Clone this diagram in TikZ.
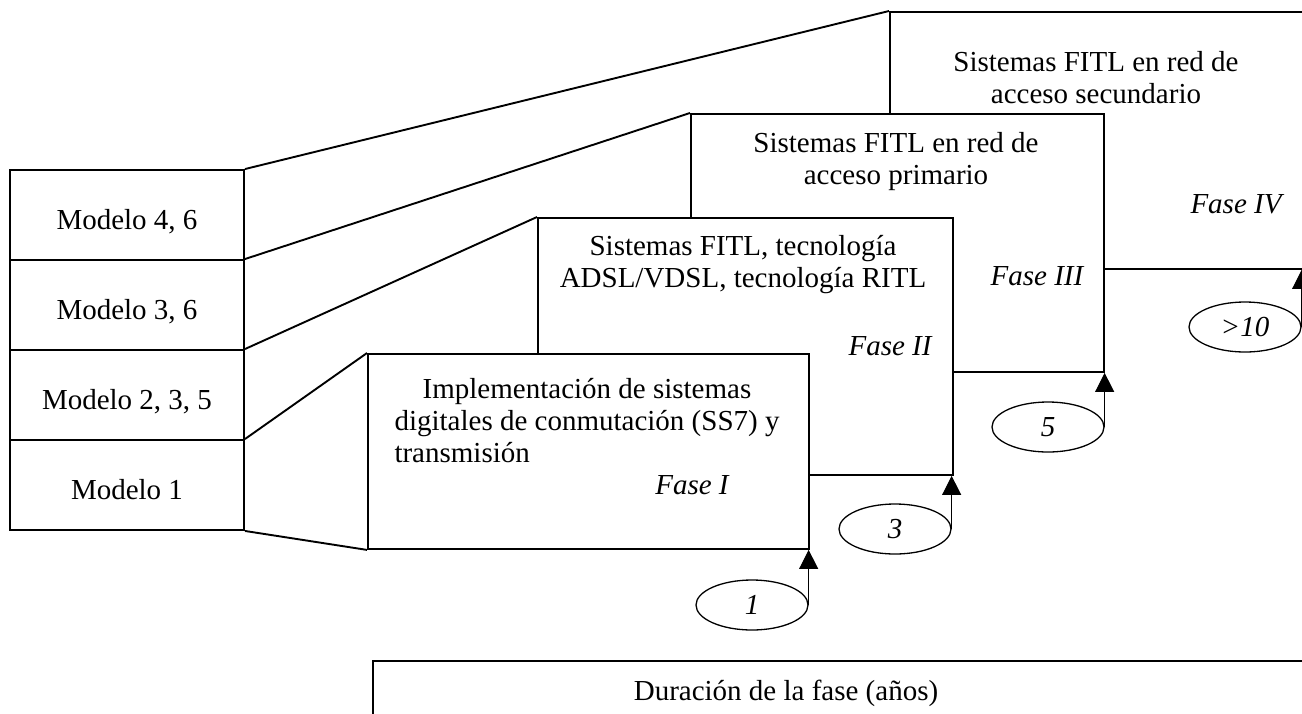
\documentclass[tikz,border=0pt]{standalone}
\usepackage{fontspec}
\setmainfont{Liberation Serif}
\usetikzlibrary{arrows.meta,shapes.geometric}
% centred block of lines whose reference point is the first baseline
\newcommand\twolines[1]{\begin{tabular}[t]{@{}c@{}}#1\end{tabular}}
\begin{document}
\begin{tikzpicture}[x=1pt,y=-1pt,
  font=\fontsize{29}{32}\selectfont,
  frame/.style={draw, line width=1.9pt, fill=white, inner sep=0pt, anchor=north west},
  modelbox/.style={draw, line width=1.9pt, minimum width=234pt, minimum height=90pt,
                   inner sep=0pt, text height=29pt, text depth=0pt},
  link/.style={line width=1.9pt},
  oval/.style={draw, ellipse, line width=1.3pt, minimum width=112pt, minimum height=50pt,
               inner sep=0pt, font=\fontsize{29}{32}\selectfont\itshape},
  rise/.style={line width=1pt, -{Triangle[length=19pt,width=19pt]}},
  phase/.style={font=\fontsize{29}{32}\selectfont\itshape, anchor=base, inner sep=0pt},
  caption/.style={anchor=base, inner sep=0pt}]
\useasboundingbox (0,0) rectangle (1302,713);
\clip (0,0) rectangle (1302,713);

% phase frames, back to front
\node[frame, minimum width=414pt, minimum height=257pt] (f4) at (889,11) {};
\node[frame, minimum width=413pt, minimum height=258pt] (f3) at (690,113) {};
\node[frame, minimum width=415pt, minimum height=257pt] (f2) at (537,217) {};
\node[frame, minimum width=441pt, minimum height=195pt] (f1) at (367,353) {};

% stack of models
\node[modelbox] (m4) at (127,215) {Modelo 4, 6};
\node[modelbox] (m3) at (127,305) {Modelo 3, 6};
\node[modelbox] (m2) at (127,395) {Modelo 2, 3, 5};
\node[modelbox] (m1) at (127,485) {Modelo 1};

% perspective links from the models to the phases
\draw[link] (m4.north east) -- (f4.north west);
\draw[link] (m3.north east) -- (f3.north west);
\draw[link] (m2.north east) -- (f2.north west);
\draw[link] (m1.north east) -- (f1.north west);
\draw[link] (m1.south east) -- (f1.south west);

% phase contents
\node[caption] (t4) at (1096,71) {\twolines{Sistemas FITL en red de\\acceso secundario}};
\node[caption] (t3) at (896,152) {\twolines{Sistemas FITL en red de\\acceso primario}};
\node[caption] (t2) at (743,255) {\twolines{Sistemas FITL, tecnología\\ADSL/VDSL, tecnología RITL}};
\node[caption] (t1) at (587,398) {\begin{tabular}[t]{@{}c@{}}Implementación de sistemas\\
  digitales de conmutación (SS7) y\\\multicolumn{1}{@{}l@{}}{transmisión}\end{tabular}};

\node[phase] (p4) at (1236,213) {Fase IV};
\node[phase] (p3) at (1037,285) {Fase III};
\node[phase] (p2) at (890,355) {Fase II};
\node[phase] (p1) at (692,494) {Fase I};

% durations
\node[oval] (e1) at (752,605) {1};
\node[oval] (e3) at (895,529) {3};
\node[oval] (e5) at (1048,427) {5};
\node[oval] (e10) at (1245,327) {>10};

\draw[rise] (e1.east) -- (e1.east |- f1.south);
\draw[rise] (e3.east) -- (e3.east |- f2.south);
\draw[rise] (e5.east) -- (e5.east |- f3.south);
\draw[rise] (e10.east) -- (e10.east |- f4.south);

% axis caption
\node[draw, line width=1.9pt, anchor=north west, minimum width=960pt, minimum height=80pt,
      inner sep=0pt] (dur) at (372,660) {};
\node[caption] (durtext) at (786,700) {Duración de la fase (años)};
\end{tikzpicture}
\end{document}
